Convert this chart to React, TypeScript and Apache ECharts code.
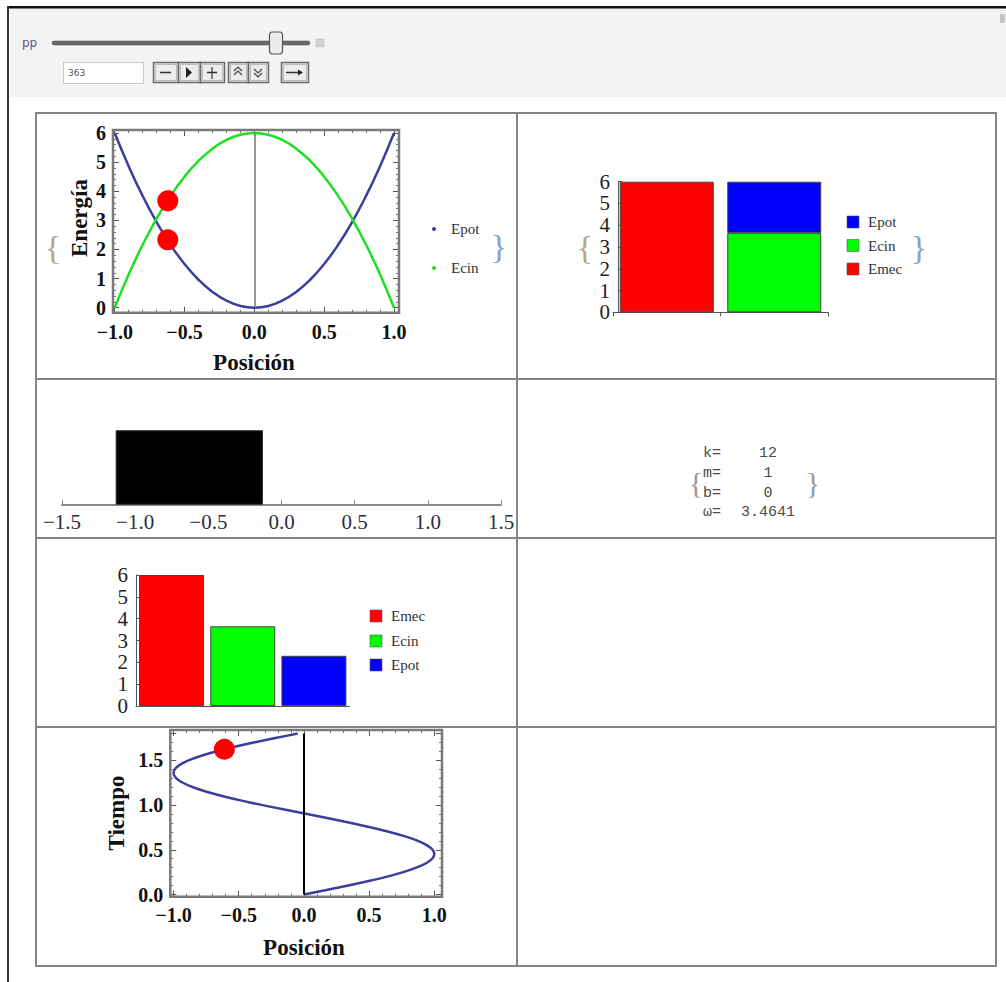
import React, { useEffect, useRef } from "react";
import * as echarts from "echarts";

// ---------- data ----------
const positionGrid = [-1.0, -0.9, -0.8, -0.7, -0.6, -0.5, -0.4, -0.3, -0.2, -0.1, 0.0, 0.1, 0.2, 0.3, 0.4, 0.5, 0.6, 0.7, 0.8, 0.9, 1.0];
const epotCurve = [6.0, 4.86, 3.84, 2.94, 2.16, 1.5, 0.96, 0.54, 0.24, 0.06, 0.0, 0.06, 0.24, 0.54, 0.96, 1.5, 2.16, 2.94, 3.84, 4.86, 6.0];
const ecinCurve = [0.0, 1.14, 2.16, 3.06, 3.84, 4.5, 5.04, 5.46, 5.76, 5.94, 6.0, 5.94, 5.76, 5.46, 5.04, 4.5, 3.84, 3.06, 2.16, 1.14, 0.0];

const currentPosition = -0.62;
const currentEpot = 2.33;
const currentEcin = 3.67;

const stackCategories = ["Emec", "Ecin+Epot"];
const stackEmec = [6, "-"];
const stackEcin = ["-", 3.65];
const stackEpot = ["-", 2.35];

const blockData = [[-1.13, -0.13, 1]]; // start, end, height

const barCategories = ["Emec", "Ecin", "Epot"];
const barValues = [6, 3.65, 2.3];

const timeSamples = [0, 0.05, 0.1, 0.15, 0.2, 0.25, 0.3, 0.35, 0.4, 0.45, 0.5, 0.55, 0.6, 0.65, 0.7, 0.75, 0.8, 0.85, 0.9, 0.95, 1.0, 1.05, 1.1, 1.15, 1.2, 1.25, 1.3, 1.35, 1.4, 1.45, 1.5, 1.55, 1.6, 1.65, 1.7, 1.75, 1.8];
const positionTrace = [0, 0.172, 0.34, 0.497, 0.639, 0.762, 0.862, 0.937, 0.983, 1.0, 0.987, 0.945, 0.874, 0.777, 0.657, 0.517, 0.362, 0.196, 0.024, -0.149, -0.317, -0.476, -0.62, -0.746, -0.85, -0.928, -0.978, -0.999, -0.991, -0.952, -0.885, -0.792, -0.675, -0.538, -0.385, -0.219, -0.048];
const currentTime = 1.625;
const currentTracePos = -0.61;

const paramNames = ["k=", "m=", "b=", "ω="];
const paramValues = ["12", "1", "0", "3.4641"];
const sliderLabel = "pp";
const sliderValue = "363";

// ---------- styles ----------
const serif = '"Liberation Serif","Times New Roman","DejaVu Serif",serif';
const mono = '"Liberation Mono","DejaVu Sans Mono",monospace';
const RED = "#ff0000";
const GREEN = "#00ff00";
const BLUE = "#0000ff";
const CURVE_BLUE = "#3d3d9e";
const CURVE_GREEN = "#1ee01e";

const fmt1 = (v: number) => (v < 0 ? "\u2212" : "") + Math.abs(v).toFixed(1);

const txt = (text: string, x: number, y: number, o: any = {}) => ({
  type: "text",
  x,
  y,
  rotation: o.rotation || 0,
  z: o.z || 20,
  style: {
    text,
    fill: o.fill || "#111",
    fontSize: o.fontSize || 14,
    fontFamily: o.fontFamily || serif,
    fontWeight: o.fontWeight || "normal",
    align: o.align || "left",
    textAlign: o.align || "left",
    verticalAlign: "middle",
    textVerticalAlign: "middle",
  },
});

const rect = (x: number, y: number, w: number, h: number, style: any, z = 1, r = 0) => ({
  type: "rect",
  z,
  shape: { x, y, width: w, height: h, r },
  style,
});

const line = (x1: number, y1: number, x2: number, y2: number, stroke: string, lineWidth: number, z = 5) => ({
  type: "line",
  z,
  shape: { x1, y1, x2, y2 },
  style: { stroke, lineWidth },
});

const frameAxisX = (gridIndex: number, position: string, offset: number, min: number, max: number, showLabel: boolean, margin = 6) => ({
  gridIndex,
  type: "value",
  position,
  offset,
  min,
  max,
  interval: 0.5,
  axisLine: { show: false, onZero: false },
  axisTick: { show: true, inside: true, length: 6, lineStyle: { color: "#555", width: 1 } },
  minorTick: { show: true, splitNumber: 5, length: 3, lineStyle: { color: "#777", width: 1 } },
  splitLine: { show: false },
  minorSplitLine: { show: false },
  axisLabel: {
    show: showLabel,
    margin,
    fontFamily: serif,
    fontWeight: "bold",
    fontSize: 20,
    color: "#111",
    formatter: (v: number) => fmt1(v),
  },
});

function buildOption() {
  const graphic: any[] = [];

  // Page frame & control panel
  graphic.push(rect(10, 8, 996, 89, { fill: "#f3f3f3" }, 0));
  graphic.push(rect(8, 6, 998, 2.5, { fill: "#111" }, 2));
  graphic.push(rect(7, 6, 2, 976, { fill: "#333" }, 2));
  graphic.push(rect(1000, 14, 5, 9, { fill: "#c4c4c4" }, 2));

  // slider
  graphic.push(txt(sliderLabel, 22, 43, { fontSize: 12, fontFamily: '"DejaVu Sans",sans-serif', fill: "#5a5a80" }));
  graphic.push(rect(52, 41, 258, 4, { fill: "#6a6a6a", stroke: "#444", lineWidth: 0.5 }, 3, 2));
  graphic.push(rect(269.5, 32, 13, 22, { fill: "#ececec", stroke: "#555", lineWidth: 1.2 }, 4, 3));
  graphic.push(rect(316, 39, 8, 8, { fill: "#d0d0d0", stroke: "#bbb", lineWidth: 0.5 }, 3));
  // input field
  graphic.push(rect(63.5, 62.5, 80, 21, { fill: "#fff", stroke: "#c8c8c8", lineWidth: 1 }, 3));
  graphic.push(txt(sliderValue, 68, 73, { fontSize: 9, fontFamily: '"DejaVu Sans",sans-serif', fill: "#555" }));
  // buttons
  const btns = [
    [153, 178], [178, 200], [200, 224],
    [228, 248], [248, 268],
    [281, 308],
  ];
  btns.forEach(([a, b]) => {
    graphic.push(rect(a + 0.5, 62.5, b - a, 20, { fill: "#e2e2e2", stroke: "#6a6a6a", lineWidth: 1.5 }, 3));
    graphic.push(rect(a + 2.5, 64.5, b - a - 4, 16, { fill: "#ececec", stroke: "#bdbdbd", lineWidth: 1 }, 3));
  });
  graphic.push(line(160, 72.5, 171, 72.5, "#333", 1.5, 6));
  graphic.push({ type: "polygon", z: 6, shape: { points: [[186, 67], [186, 78], [192, 72.5]] }, style: { fill: "#222" } });
  graphic.push(line(207, 72.5, 217, 72.5, "#333", 1.5, 6));
  graphic.push(line(212, 67, 212, 79, "#333", 1.2, 6));
  graphic.push({ type: "polyline", z: 6, shape: { points: [[234, 71], [238, 67], [242, 71]] }, style: { stroke: "#444", lineWidth: 1.2, fill: "none" } });
  graphic.push({ type: "polyline", z: 6, shape: { points: [[234, 75], [238, 71], [242, 75]] }, style: { stroke: "#444", lineWidth: 1.2, fill: "none" } });
  graphic.push({ type: "polyline", z: 6, shape: { points: [[254, 69], [258, 73], [262, 69]] }, style: { stroke: "#444", lineWidth: 1.2, fill: "none" } });
  graphic.push({ type: "polyline", z: 6, shape: { points: [[254, 73], [258, 77], [262, 73]] }, style: { stroke: "#444", lineWidth: 1.2, fill: "none" } });
  graphic.push(line(286, 72.5, 300, 72.5, "#333", 1.5, 6));
  graphic.push({ type: "polygon", z: 6, shape: { points: [[298, 69.5], [298, 75.5], [303, 72.5]] }, style: { fill: "#222" } });

  // table lines
  const tableColor = "#858585";
  graphic.push(rect(36, 113, 960, 853, { fill: "none", stroke: tableColor, lineWidth: 2 }, 5));
  graphic.push(line(517, 113, 517, 966, tableColor, 2));
  graphic.push(line(36, 379, 996, 379, tableColor, 2));
  graphic.push(line(36, 538, 996, 538, tableColor, 2));
  graphic.push(line(36, 727, 996, 727, tableColor, 2));

  // chart 1 frame, labels, legend, braces
  graphic.push(rect(113, 130, 286, 182.7, { fill: "none", stroke: "#7a7a7a", lineWidth: 2.5 }, 10));
  graphic.push(txt("Energía", 79, 218, { rotation: Math.PI / 2, fontSize: 23, fontWeight: "bold", align: "center" }));
  graphic.push(txt("Posición", 254, 362, { fontSize: 23, fontWeight: "bold", align: "center" }));
  graphic.push({ type: "circle", z: 20, shape: { cx: 434, cy: 229, r: 2 }, style: { fill: CURVE_BLUE } });
  graphic.push({ type: "circle", z: 20, shape: { cx: 434, cy: 268, r: 2 }, style: { fill: CURVE_GREEN } });
  graphic.push(txt("Epot", 451, 229, { fontSize: 15, fill: "#333" }));
  graphic.push(txt("Ecin", 451, 268, { fontSize: 15, fill: "#333" }));
  graphic.push(txt("{", 53, 247, { fontSize: 34, fill: "#b5a58e", align: "center" }));
  graphic.push(txt("}", 499, 246, { fontSize: 34, fill: "#86a0c6", align: "center" }));

  // chart 2 legend & braces
  const leg2 = [["Epot", BLUE, 222], ["Ecin", GREEN, 245.5], ["Emec", RED, 269]];
  leg2.forEach(([n, c, y]: any) => {
    graphic.push(rect(847, y - 6, 12, 12, { fill: c, stroke: "#555", lineWidth: 0.6 }, 20));
    graphic.push(txt(n, 868, y, { fontSize: 15, fill: "#333" }));
  });
  graphic.push(txt("{", 585, 247, { fontSize: 34, fill: "#b5a58e", align: "center" }));
  graphic.push(txt("}", 919, 247, { fontSize: 34, fill: "#86a0c6", align: "center" }));

  // chart 4: parameters
  const rowsY = [453, 473, 493, 512];
  paramNames.forEach((n, i) => {
    graphic.push(txt(n, 703, rowsY[i], { fontSize: 15, fontFamily: mono, fill: "#4a4a4a" }));
    graphic.push(txt(paramValues[i], 768, rowsY[i], { fontSize: 15, fontFamily: mono, fill: "#4a4a4a", align: "center" }));
  });
  graphic.push(txt("{", 696, 482, { fontSize: 30, fill: "#999", align: "center" }));
  graphic.push(txt("}", 813, 482, { fontSize: 30, fill: "#999", align: "center" }));

  // chart 5 legend
  const leg5 = [["Emec", RED, 616], ["Ecin", GREEN, 641], ["Epot", BLUE, 665]];
  leg5.forEach(([n, c, y]: any) => {
    graphic.push(rect(370, y - 6, 12, 12, { fill: c, stroke: "#555", lineWidth: 0.6 }, 20));
    graphic.push(txt(n, 391, y, { fontSize: 15, fill: "#333" }));
  });

  // chart 6 frame & labels
  graphic.push(rect(170.3, 730, 271.7, 166.7, { fill: "none", stroke: "#7a7a7a", lineWidth: 2.5 }, 10));
  graphic.push(txt("Tiempo", 116, 813, { rotation: Math.PI / 2, fontSize: 23, fontWeight: "bold", align: "center" }));
  graphic.push(txt("Posición", 304, 947, { fontSize: 23, fontWeight: "bold", align: "center" }));

  const zeroLine = (color: string, width: number) => ({
    silent: true,
    symbol: ["none", "none"],
    label: { show: false },
    lineStyle: { color, width, type: "solid" },
    data: [{ xAxis: 0 }],
  });

  const plainYAxis = (gridIndex: number, offset: number) => ({
    gridIndex,
    type: "value",
    min: 0,
    max: 6,
    interval: 1,
    offset,
    axisLine: { show: true, onZero: false, lineStyle: { color: "#555", width: 1 } },
    axisTick: { show: true, inside: true, length: 4, lineStyle: { color: "#555" } },
    splitLine: { show: false },
    axisLabel: { margin: 8, fontFamily: serif, fontSize: 21, color: "#222" },
  });

  const yFrame = (gridIndex: number, position: string, offset: number, max: number, interval: number, showLabel: boolean, fmt: any, showMax = true) => ({
    gridIndex,
    type: "value",
    position,
    offset,
    min: 0,
    max,
    interval,
    axisLine: { show: false, onZero: false },
    axisTick: { show: true, inside: true, length: 6, lineStyle: { color: "#555", width: 1 } },
    minorTick: { show: true, splitNumber: 5, length: 3, lineStyle: { color: "#777", width: 1 } },
    splitLine: { show: false },
    minorSplitLine: { show: false },
    axisLabel: {
      show: showLabel,
      showMaxLabel: showMax,
      margin: 7,
      fontFamily: serif,
      fontWeight: "bold",
      fontSize: 20,
      color: "#111",
      formatter: fmt,
    },
  });

  return {
    animation: false,
    backgroundColor: "#ffffff",
    grid: [
      { left: 114.7, top: 133, width: 279.3, height: 174.7, outerBoundsMode: "none" },
      { left: 613, top: 181.7, width: 215, height: 130.6, outerBoundsMode: "none" },
      { left: 62, top: 430.7, width: 439, height: 73.6, outerBoundsMode: "none" },
      { left: 136, top: 575, width: 213.5, height: 131, outerBoundsMode: "none" },
      { left: 173.5, top: 733.6, width: 260.8, height: 160.9, outerBoundsMode: "none" },
    ],
    xAxis: [
      frameAxisX(0, "bottom", 5, -1, 1, true, 9),
      frameAxisX(0, "top", 3, -1, 1, false),
      {
        gridIndex: 1,
        type: "category",
        data: stackCategories,
        axisLine: { show: true, onZero: false, lineStyle: { color: "#555", width: 1 } },
        axisTick: { show: true, length: 4, lineStyle: { color: "#555" } },
        axisLabel: { show: false },
      },
      {
        gridIndex: 2,
        type: "value",
        min: -1.5,
        max: 1.5,
        interval: 0.5,
        axisLine: { show: true, onZero: false, lineStyle: { color: "#8a8a8a", width: 2 } },
        axisTick: { show: true, inside: true, length: 4, lineStyle: { color: "#8a8a8a" } },
        splitLine: { show: false },
        axisLabel: { margin: 7, fontFamily: serif, fontSize: 21, color: "#2b2b45", formatter: (v: number) => fmt1(v) },
      },
      {
        gridIndex: 3,
        type: "category",
        data: barCategories,
        axisLine: { show: true, onZero: false, lineStyle: { color: "#555", width: 1 } },
        axisTick: { show: false },
        axisLabel: { show: false },
      },
      frameAxisX(4, "bottom", 2.2, -1, 1, true, 8),
      frameAxisX(4, "top", 3.6, -1, 1, false),
    ],
    yAxis: [
      yFrame(0, "left", 1.7, 6, 1, true, (v: number) => String(v)),
      yFrame(0, "right", 5, 6, 1, false, (v: number) => String(v)),
      plainYAxis(1, -5),
      { gridIndex: 2, type: "value", min: 0, max: 1, show: false },
      plainYAxis(3, 0),
      yFrame(4, "left", 3.2, 1.8, 0.5, true, (v: number) => fmt1(v), false),
      yFrame(4, "right", 7.7, 1.8, 0.5, false, (v: number) => fmt1(v), false),
    ],
    series: [
      {
        name: "Epot",
        type: "line",
        xAxisIndex: 0,
        yAxisIndex: 0,
        data: positionGrid.map((x, i) => [x, epotCurve[i]]),
        showSymbol: false,
        smooth: true,
        clip: false,
        lineStyle: { color: CURVE_BLUE, width: 2.5 },
        markLine: zeroLine("#777", 1.5),
        z: 3,
      },
      {
        name: "Ecin",
        type: "line",
        xAxisIndex: 0,
        yAxisIndex: 0,
        data: positionGrid.map((x, i) => [x, ecinCurve[i]]),
        showSymbol: false,
        smooth: true,
        clip: false,
        lineStyle: { color: CURVE_GREEN, width: 2.5 },
        z: 3,
      },
      {
        type: "scatter",
        xAxisIndex: 0,
        yAxisIndex: 0,
        data: [[currentPosition, currentEcin], [currentPosition, currentEpot]],
        symbolSize: 21,
        itemStyle: { color: RED, opacity: 1 },
        z: 6,
      },
      {
        name: "Emec",
        type: "bar",
        xAxisIndex: 2,
        yAxisIndex: 2,
        stack: "E",
        barWidth: 94,
        data: stackEmec,
        itemStyle: { color: RED, borderColor: "#444", borderWidth: 1 },
      },
      {
        name: "Ecin",
        type: "bar",
        xAxisIndex: 2,
        yAxisIndex: 2,
        stack: "E",
        barWidth: 94,
        data: stackEcin,
        itemStyle: { color: GREEN, borderColor: "#444", borderWidth: 1 },
      },
      {
        name: "Epot",
        type: "bar",
        xAxisIndex: 2,
        yAxisIndex: 2,
        stack: "E",
        barWidth: 94,
        data: stackEpot,
        itemStyle: { color: BLUE, borderColor: "#444", borderWidth: 1 },
      },
      {
        type: "custom",
        xAxisIndex: 3,
        yAxisIndex: 3,
        encode: { x: [0, 1], y: 2 },
        data: blockData,
        renderItem: (params: any, api: any) => {
          const p0 = api.coord([api.value(0), api.value(2)]);
          const p1 = api.coord([api.value(1), 0]);
          return {
            type: "rect",
            shape: { x: p0[0], y: p0[1], width: p1[0] - p0[0], height: p1[1] - p0[1] },
            style: { fill: "#000", stroke: "#333", lineWidth: 1 },
          };
        },
      },
      {
        type: "bar",
        xAxisIndex: 4,
        yAxisIndex: 4,
        barWidth: 65,
        data: barValues.map((v, i) => ({
          value: v,
          itemStyle: { color: [RED, GREEN, BLUE][i], borderColor: "#444", borderWidth: 1 },
        })),
      },
      {
        type: "line",
        xAxisIndex: 5,
        yAxisIndex: 5,
        data: positionTrace.map((x, i) => [x, timeSamples[i]]),
        showSymbol: false,
        smooth: 0.3,
        clip: false,
        lineStyle: { color: CURVE_BLUE, width: 2.5 },
        markLine: zeroLine("#000", 2),
        z: 3,
      },
      {
        type: "scatter",
        xAxisIndex: 5,
        yAxisIndex: 5,
        data: [[currentTracePos, currentTime]],
        symbolSize: 21,
        itemStyle: { color: RED, opacity: 1 },
        z: 6,
      },
    ],
    graphic,
  };
}

export default function App() {
  const ref = useRef<HTMLDivElement>(null);
  useEffect(() => {
    if (!ref.current) return;
    const chart = echarts.init(ref.current, undefined, { renderer: "svg" });
    chart.setOption(buildOption() as any);
    return () => chart.dispose();
  }, []);
  return (
    <div
      ref={ref}
      style={{ position: "absolute", left: 0, top: 0, width: 1006, height: 982, background: "#fff" }}
    />
  );
}
